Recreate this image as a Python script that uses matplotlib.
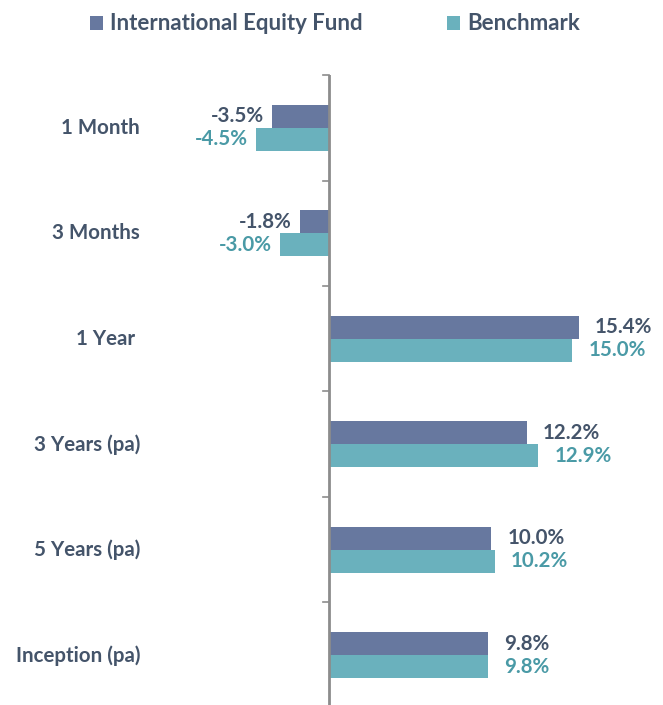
import matplotlib.pyplot as plt
import numpy as np

# data
periods = ["1 Month", "3 Months", "1 Year ", "3 Years (pa)", "5 Years (pa)", "Inception (pa)"]
fund = [-3.5, -1.8, 15.4, 12.2, 10.0, 9.8]
benchmark = [-4.5, -3.0, 15.0, 12.9, 10.2, 9.8]

fund_color = "#67789F"
bench_color = "#6AB1BD"
text_color = "#44546A"
bench_text = "#4A9AA6"

plt.rcParams['font.family'] = ['Lato', 'DejaVu Sans']
plt.rcParams['font.weight'] = 'bold'

W, H = 663, 705
fig = plt.figure(figsize=(W / 100, H / 100), dpi=100)

# axes placed so that 0 sits at x=329px and categories are 105.5px apart
px_per_pct = 16.23
xmin, xmax = -10, 20
left_px = 329 + xmin * px_per_pct
right_px = 329 + xmax * px_per_pct
top_px = 75
bot_px = top_px + 105.5 * len(periods)
ax = fig.add_axes([left_px / W, 1 - bot_px / H, (right_px - left_px) / W, (bot_px - top_px) / H])

y = np.arange(len(periods))
h = 0.218
b1 = ax.barh(y - h / 2, fund, height=h, color=fund_color, label="International Equity Fund")
b2 = ax.barh(y + h / 2, benchmark, height=h, color=bench_color, label="Benchmark")

ax.set_xlim(xmin, xmax)
ax.set_ylim(len(periods) - 0.5, -0.5)

for s in ["top", "right", "bottom", "left"]:
    ax.spines[s].set_visible(False)
ax.set_xticks([])
ax.set_yticks([])
ax.axvline(0, color="#8C8C8C", lw=2)
for b in np.arange(-0.5, len(periods) - 0.5):
    ax.plot([-6 / px_per_pct, 0], [b, b], color="#8C8C8C", lw=1.2, clip_on=False)

fs = 14.8
for i, lab in enumerate(periods):
    ax.text((140 - 329) / px_per_pct, i, lab, ha="right", va="center",
            fontsize=fs, color=text_color, clip_on=False)

def label_bars(vals, offset, color):
    for i, v in enumerate(vals):
        if v < 0:
            ax.text(v - 8 / px_per_pct, i + offset, f"{v:.1f}%", ha="right", va="center",
                    fontsize=fs, color=color)
        else:
            ax.text(v + 16 / px_per_pct, i + offset, f"{v:.1f}%", ha="left", va="center",
                    fontsize=fs, color=color)

label_bars(fund, -h / 2, text_color)
label_bars(benchmark, h / 2, bench_text)

leg = fig.legend(handles=[b1, b2], loc="center", bbox_to_anchor=(335 / W, 1 - 24 / H),
                 ncol=2, frameon=False, fontsize=16, handlelength=0.6, handleheight=0.6,
                 handletextpad=0.32, columnspacing=3.8, labelcolor=text_color)

fig.savefig("out.png", dpi=100)
